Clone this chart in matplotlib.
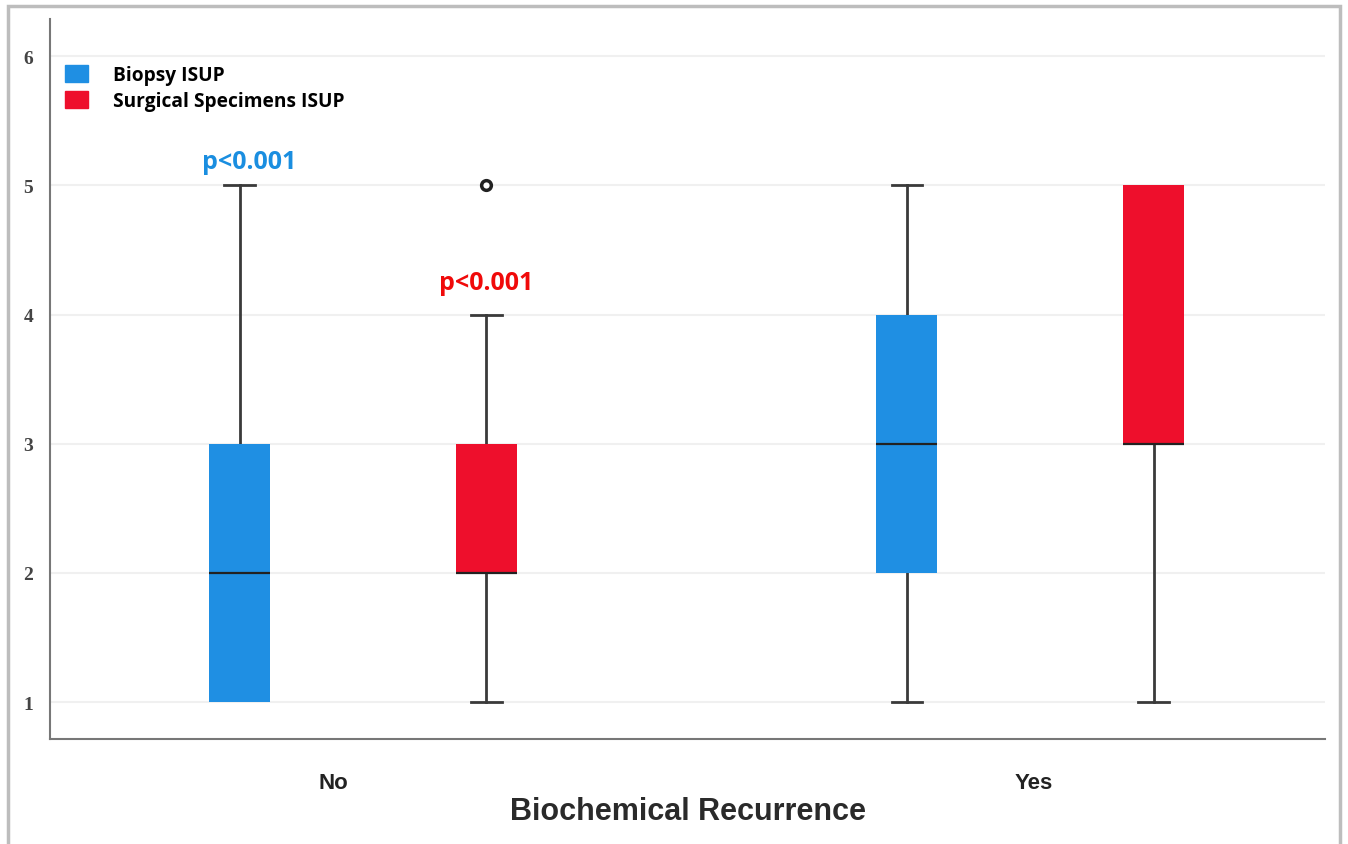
import matplotlib
matplotlib.use("Agg")
import matplotlib.pyplot as plt
from matplotlib.patches import Rectangle, Patch

groups = ["No", "Yes"]
series = ["Biopsy ISUP", "Surgical Specimens ISUP"]
colors = ["#1f8fe3", "#ee0f2c"]

# box stats per series, per group: (whislo, q1, med, q3, whishi, outliers)
biopsy = [(1, 1, 2, 3, 5, []), (1, 2, 3, 4, 5, [])]
surgical = [(1, 2, 2, 3, 4, [5]), (1, 3, 3, 5, 5, [])]
p_labels = ["p<0.001", "p<0.001"]

fig = plt.figure(figsize=(13.48, 8.45), dpi=100)
ax = fig.add_axes([0.0371, 0.1243, 0.9459, 0.8517])

offset = 0.185
width = 0.091
for s, (stats_list, col) in enumerate(zip([biopsy, surgical], colors)):
    stats = []
    for lo, q1, med, q3, hi, fl in stats_list:
        stats.append(dict(whislo=lo, q1=q1, med=med, q3=q3, whishi=hi, fliers=fl))
    pos = [g + (s * 2 - 1) * offset for g in range(len(groups))]
    res = ax.bxp(stats, positions=pos, widths=width, patch_artist=True, showfliers=True,
                 boxprops=dict(facecolor=col, edgecolor=col, linewidth=0, zorder=3),
                 medianprops=dict(color="#222222", linewidth=1.6, zorder=4),
                 whiskerprops=dict(color="#3a3a3a", linewidth=2),
                 capprops=dict(color="#3a3a3a", linewidth=2),
                 capwidths=width / 2,
                 flierprops=dict(marker="o", markersize=7, markerfacecolor="white",
                                 markeredgecolor="#222222", markeredgewidth=2.5))
    # hide caps that sit on the box edge
    for i, st in enumerate(stats):
        if st["whislo"] == st["q1"]:
            res["caps"][2 * i].set_visible(False)
        if st["whishi"] == st["q3"]:
            res["caps"][2 * i + 1].set_visible(False)

# p-value annotations
ax.text(0 - offset + 0.015, 5.09, p_labels[0], color="#1a8ee0", fontsize=18,
        fontweight="bold", family="Open Sans", ha="center", va="bottom")
ax.text(0 + offset, 4.15, p_labels[1], color="#f00a0a", fontsize=18,
        fontweight="bold", family="Open Sans", ha="center", va="bottom")

ax.set_xlim(-0.469, 1.442)
ax.set_ylim(0.714, 6.286)
ax.set_yticks([1, 2, 3, 4, 5, 6])
ax.set_yticklabels(["1", "2", "3", "4", "5", "6"], family="Liberation Serif",
                   fontsize=14, color="#444444", fontweight="bold")
ax.set_xticks([-0.045, 1.005])
ax.set_xticklabels(groups, fontsize=16, fontweight="bold", family="Liberation Sans",
                   color="#222222")
ax.tick_params(axis="both", length=0)
ax.tick_params(axis="x", pad=24)
ax.tick_params(axis="y", pad=12)
ax.set_xlabel("Biochemical Recurrence", fontsize=22, family="Liberation Sans",
              fontweight="bold", color="#2a2a2a", labelpad=2)
ax.grid(axis="y", color="#f0f0f0", linewidth=1.5)
ax.set_axisbelow(True)
for sp in ["top", "right"]:
    ax.spines[sp].set_visible(False)
for sp in ["left", "bottom"]:
    ax.spines[sp].set_color("#777777")
    ax.spines[sp].set_linewidth(1.5)

handles = [Patch(facecolor=c, edgecolor=c) for c in colors]
leg = ax.legend(handles, series, loc="upper left", bbox_to_anchor=(0.0, 0.958),
                frameon=False, prop=dict(family="Open Sans", weight="bold", size=13.8),
                handlelength=1.2, handleheight=1.0, handletextpad=1.3, labelspacing=0.32,
                borderaxespad=0.4)

# outer frame
fig.patches.append(Rectangle((0.006, -0.01), 0.988, 1.002, transform=fig.transFigure,
                             fill=False, edgecolor="#bdbdbd", linewidth=2.5))

fig.savefig("out.png", dpi=100)
